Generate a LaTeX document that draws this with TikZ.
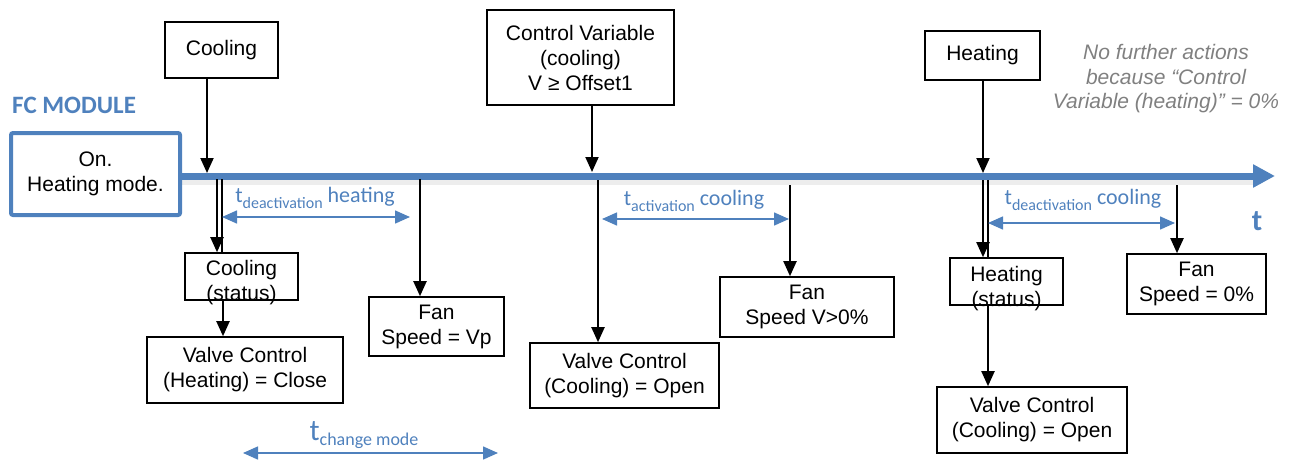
\documentclass[tikz,border=0pt]{standalone}
\usepackage{fontspec}
\setmainfont{Liberation Sans}
\newfontfamily\calfont{Carlito}
\usetikzlibrary{arrows.meta}
\definecolor{tlblue}{HTML}{4F81BD}
\definecolor{notegray}{HTML}{808080}
\newcommand\subtxt[1]{\raisebox{-6pt}{\fontsize{16}{16}\selectfont #1}}
\begin{document}
\begin{tikzpicture}[x=1pt,y=-1pt,
  box/.style={draw, line width=1.6pt, inner sep=0pt, align=center, font=\fontsize{21}{25}\selectfont},
  txt/.style={inner sep=0pt, align=center, font=\fontsize{21}{25}\selectfont},
  arr/.style={line width=2pt, -{Triangle[length=15pt,width=13pt]}},
  ln/.style={line width=2pt},
  dimarr/.style={draw=tlblue, line width=1.5pt, {Triangle[length=15pt,width=13pt]}-{Triangle[length=15pt,width=13pt]}},
  lbl/.style={text=tlblue, font=\calfont\fontsize{22}{26}\selectfont, inner sep=0pt, anchor=base}]
\useasboundingbox (0,0) rectangle (1298,463);

% FC module
\node[anchor=west, text=tlblue, font=\calfont\bfseries\fontsize{25}{30}\selectfont, inner sep=0pt] (fcm) at (12,105) {FC MODULE};
\node[draw=tlblue, line width=4pt, rounded corners=2pt, minimum width=169pt, minimum height=82pt, txt] (fc) at (95.5,174) {On.\\Heating mode.};

% timeline
\coordinate (tlend) at (1275,176);
\coordinate (shend) at (1255,180);
\draw[line width=9pt, black, opacity=0.07] (fc.east |- shend) -- (shend);
\draw[line width=7pt, tlblue, -{Triangle[length=22pt,width=22pt]}] (fc.east |- tlend) -- (tlend);
\node[text=tlblue, font=\calfont\bfseries\fontsize{30}{30}\selectfont, inner sep=0pt] (tlab) at (1257,221) {t};

% boxes
\node[box, minimum width=113pt, minimum height=56pt] (cool) at (221.5,50) {Cooling};
\node[box, minimum width=113pt, minimum height=47pt] (cst) at (241.5,276.5) {};
\node[txt] (cstt) at (241.5,283) {Cooling\\(status)};
\node[box, minimum width=196pt, minimum height=66pt] (vh) at (245,370) {Valve Control\\(Heating) = Close};
\node[box, minimum width=135pt, minimum height=59pt] (fan1) at (436.5,326.5) {Fan\\Speed = Vp};
\node[box, minimum width=187pt, minimum height=95pt] (cv) at (580.5,57.5) {Control Variable\\(cooling)\\V ≥ Offset1};
\node[box, minimum width=189pt, minimum height=65pt] (vc1) at (624.5,375.5) {Valve Control\\(Cooling) = Open};
\node[box, minimum width=174pt, minimum height=60pt] (fan2) at (807,307) {Fan\\Speed V>0\%};
\node[box, minimum width=115pt, minimum height=49pt] (heat) at (982.5,55.5) {Heating};
\node[box, minimum width=113pt, minimum height=47pt] (hst) at (1006.5,281.5) {};
\node[txt] (hstt) at (1006.5,289) {Heating\\(status)};
\node[box, minimum width=190pt, minimum height=66pt] (vc2) at (1032,420) {Valve Control\\(Cooling) = Open};
\node[box, minimum width=139pt, minimum height=60pt] (fan3) at (1196.5,284) {Fan\\Speed = 0\%};

\node[txt, text=notegray, font=\itshape\fontsize{21}{24.5}\selectfont] (note) at (1166,79) {No further actions\\because “Control\\Variable (heating)” = 0\%};

% event 1: cooling
\coordinate (c1) at (207,173);
\coordinate (c1a) at (217,179);
\coordinate (c1b) at (222,179);
\coordinate (c1c) at (223,300);
\coordinate (f1) at (420,179);
\draw[arr] (c1 |- cool.south) -- (c1);
\draw[arr] (c1a) -- (c1a |- cst.north);
\draw[ln] (c1b) -- (c1b |- cst.north);
\draw[arr] (c1c |- cst.south) -- (c1c |- vh.north);
\draw[arr] (f1) -- (f1 |- fan1.north);
\coordinate (d1a) at (222,217);
\coordinate (d1b) at (410,217);
\draw[dimarr] (d1a) -- (d1b);
\node[lbl] (l1) at (315,202) {t\subtxt{deactivation} heating};

% event 2: control variable
\coordinate (c2) at (592,172);
\coordinate (c2a) at (598,180);
\coordinate (f2) at (790,185);
\draw[arr] (c2 |- cv.south) -- (c2);
\draw[arr] (c2a) -- (c2a |- vc1.north);
\draw[arr] (f2) -- (f2 |- fan2.north);
\coordinate (d2a) at (602,219);
\coordinate (d2b) at (789,219);
\draw[dimarr] (d2a) -- (d2b);
\node[lbl] (l2) at (694,205) {t\subtxt{activation} cooling};

% event 3: heating
\coordinate (c3) at (983,173);
\coordinate (c3a) at (983,180);
\coordinate (c3b) at (988,180);
\coordinate (c3c) at (988,305);
\coordinate (f3) at (1177,185);
\draw[arr] (c3 |- heat.south) -- (c3);
\draw[arr] (c3a) -- (c3a |- hst.north);
\draw[ln] (c3b) -- (c3b |- hst.north);
\draw[arr] (c3c |- hst.south) -- (c3c |- vc2.north);
\draw[arr] (f3) -- (f3 |- fan3.north);
\coordinate (d3a) at (988,223);
\coordinate (d3b) at (1175,223);
\draw[dimarr] (d3a) -- (d3b);
\node[lbl] (l3) at (1083,204) {t\subtxt{deactivation} cooling};

% change mode
\coordinate (d4a) at (243,453);
\coordinate (d4b) at (498,453);
\draw[dimarr] (d4a) -- (d4b);
\node[lbl] (l4) at (364,440) {{\fontsize{30}{30}\selectfont t}\raisebox{-5pt}{\fontsize{18}{18}\selectfont change mode}};
\end{tikzpicture}
\end{document}
